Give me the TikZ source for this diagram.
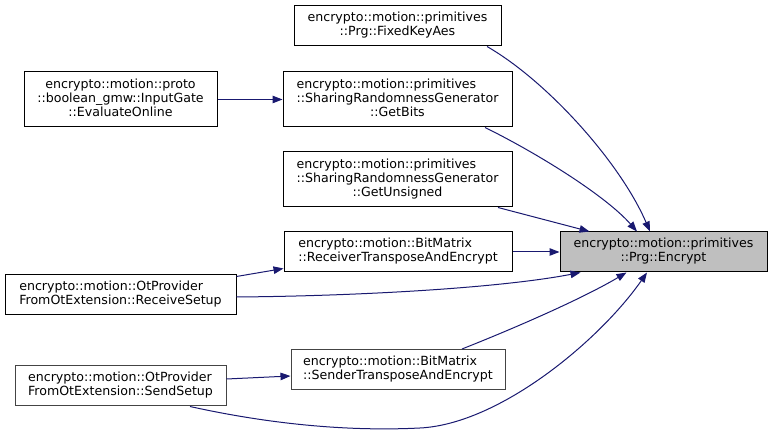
\documentclass[tikz,border=0pt]{standalone}
\usepackage{fontspec}
\setmainfont{DejaVu Sans}
\usetikzlibrary{arrows.meta,calc}
\definecolor{edgeblue}{HTML}{191970}
\definecolor{fillgray}{HTML}{BFBFBF}
\definecolor{boxgray}{HTML}{444444}
\begin{document}
\begin{tikzpicture}[x=1pt,y=-1pt,
  fn/.style={draw=black,line width=1pt,fill=white,inner sep=0pt,
    font=\fontsize{12.6}{14}\selectfont},
  fngray/.style={fn,draw=boxgray},
  tgt/.style={fn,fill=fillgray},
  call/.style={draw=edgeblue,line width=1pt,
    -{Triangle[length=10pt,width=7.5pt]},fill=none}]
\useasboundingbox (0,0) rectangle (772,435);
% nodes
\node[tgt,minimum width=207,minimum height=40] (enc) at (663.5,252)
  {\begin{tabular}{@{}c@{}}encrypto::motion::primitives\\::Prg::Encrypt\end{tabular}};
\node[fn,minimum width=207,minimum height=40] (fka) at (397.5,26)
  {\begin{tabular}{@{}c@{}}encrypto::motion::primitives\\::Prg::FixedKeyAes\end{tabular}};
\node[fn,minimum width=229,minimum height=55] (gb) at (397.5,99.5)
  {\begin{tabular}{@{}l@{}}encrypto::motion::primitives\\::SharingRandomnessGenerator\\\multicolumn{1}{@{}c@{}}{::GetBits}\end{tabular}};
\node[fn,minimum width=193,minimum height=55] (eo) at (120.5,99.5)
  {\begin{tabular}{@{}c@{}}encrypto::motion::proto\\::boolean\_gmw::InputGate\\::EvaluateOnline\end{tabular}};
\node[fn,minimum width=229,minimum height=55] (gu) at (397.5,179.5)
  {\begin{tabular}{@{}l@{}}encrypto::motion::primitives\\::SharingRandomnessGenerator\\\multicolumn{1}{@{}c@{}}{::GetUnsigned}\end{tabular}};
\node[fn,minimum width=228,minimum height=40] (rt) at (398,252)
  {\begin{tabular}{@{}l@{}}encrypto::motion::BitMatrix\\::ReceiverTransposeAndEncrypt\end{tabular}};
\node[fn,minimum width=231,minimum height=40] (rs) at (120.5,295)
  {\begin{tabular}{@{}l@{}}encrypto::motion::OtProvider\\FromOtExtension::ReceiveSetup\end{tabular}};
\node[fngray,minimum width=214,minimum height=40] (st) at (398,369.5)
  {\begin{tabular}{@{}l@{}}encrypto::motion::BitMatrix\\::SenderTransposeAndEncrypt\end{tabular}};
\node[fngray,minimum width=211,minimum height=40] (ss) at (120.5,386)
  {\begin{tabular}{@{}l@{}}encrypto::motion::OtProvider\\FromOtExtension::SendSetup\end{tabular}};
% connectors
\draw[call] ($(fka.south)+(89.5,0)$) .. controls (547,81) and (620,162) .. ($(enc.north)+(-13.5,0)$);
\draw[call] ($(gb.south)+(87.5,0)$) .. controls (535,152) and (605,195) .. ($(enc.north)+(-26.5,0)$);
\draw[call] ($(gu.south)+(100.5,0)$) -- ($(enc.north)+(-74,0)$);
\draw[call] (rt.east) -- (enc.west);
\draw[call] (eo.east) -- (gb.west);
\draw[call] ($(rs.north east)+(0,2)$) -- ($(rt.south west)+(0,-4)$);
\draw[call] ($(rs.east)+(0,2)$) .. controls (360,296) and (500,288) .. ($(enc.south west)+(21,0)$);
\draw[call] ($(st.north)+(64,0)$) .. controls (510,330) and (580,300) .. ($(enc.south)+(-37,0)$);
\draw[call] ($(ss.east)+(0,-7)$) -- ($(st.west)+(0,6.5)$);
\draw[call] ($(ss.south)+(69.5,0)$) .. controls (260,422) and (340,432) .. (420,428)
  .. controls (500,424) and (600,340) .. ($(enc.south)+(-16.5,0)$);
\end{tikzpicture}
\end{document}
